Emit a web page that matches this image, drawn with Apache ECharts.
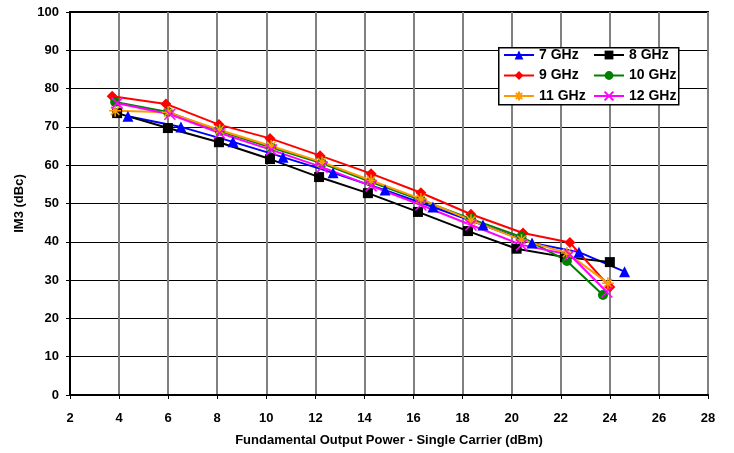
<!DOCTYPE html>
<html>
<head>
<meta charset="utf-8">
<script src="https://cdn.jsdelivr.net/npm/echarts@6/dist/echarts.min.js"></script>
<style>html,body{margin:0;padding:0;background:#fff;}#c{width:734px;height:453px;}</style>
</head>
<body>
<div id="c"></div>
<script>
var xTicks = [2,4,6,8,10,12,14,16,18,20,22,24,26,28];
var yTicks = [0,10,20,30,40,50,60,70,80,90,100];

var names = ['7 GHz','8 GHz','9 GHz','10 GHz','11 GHz','12 GHz'];

var x7  = [4.36, 6.52, 8.64, 10.68, 12.72, 14.84, 16.79, 18.83, 20.83, 22.74, 24.6];
var y7  = [72.8, 70.0, 66.1, 62.1, 58.0, 53.5, 49.1, 44.4, 39.7, 37.3, 32.2];
var x8  = [3.92, 5.99, 8.07, 10.15, 12.15, 14.14, 16.18, 18.22, 20.2, 22.17, 24.0];
var y8  = [73.6, 69.7, 66.0, 61.6, 56.9, 52.7, 47.8, 42.8, 38.2, 36.0, 34.7];
var x9  = [3.72, 5.91, 8.07, 10.15, 12.19, 14.27, 16.3, 18.34, 20.46, 22.37, 24.0];
var y9  = [78.0, 76.0, 70.6, 67.0, 62.5, 57.8, 52.8, 47.2, 42.3, 39.8, 28.2];
var x10 = [3.84, 5.99, 8.1, 10.2, 12.27, 14.27, 16.3, 18.34, 20.4, 22.25, 23.72];
var y10 = [76.5, 73.9, 68.9, 64.6, 60.5, 55.6, 50.9, 46.0, 41.3, 35.0, 26.1];
var x11 = [3.84, 6.0, 8.1, 10.2, 12.27, 14.27, 16.3, 18.34, 20.4, 22.25, 23.92];
var y11 = [74.2, 73.8, 69.2, 65.0, 60.8, 56.0, 51.2, 45.6, 40.5, 37.1, 29.2];
var x12 = [3.92, 6.07, 8.1, 10.2, 12.27, 14.27, 16.3, 18.34, 20.4, 22.37, 23.88];
var y12 = [76.2, 73.3, 68.4, 64.0, 59.5, 54.6, 49.6, 44.4, 39.2, 36.6, 26.9];

var colors = ['#0000FF','#000000','#FF0000','#008000','#FF9900','#FF00FF'];
var symbols = ['triangle','rect','diamond','circle',
  'path://M5 0 L5 10 M0 5 L10 5 M1.5 1.5 L8.5 8.5 M8.5 1.5 L1.5 8.5',
  'path://M0 0 L10 10 M10 0 L0 10'];
var sizes = [11, 10, 11, 10, 12, 11];
var xs = [x7,x8,x9,x10,x11,x12];
var ys = [y7,y8,y9,y10,y11,y12];

function pairs(a,b){ var r=[]; for(var i=0;i<a.length;i++) r.push([a[i],b[i]]); return r; }

var series = names.map(function(n,i){
  var isPath = i >= 4;
  return {
    name: n, type: 'line', data: pairs(xs[i], ys[i]),
    symbol: symbols[i], symbolSize: sizes[i],
    lineStyle: {color: colors[i], width: 2},
    itemStyle: isPath ? {color: 'none', borderColor: colors[i], borderWidth: 1.5}
                      : {color: colors[i], borderWidth: 0}
  };
});

var font = 'Liberation Sans, Arial, sans-serif';
var legendText = {fontFamily: font, fontWeight: 'bold', fontSize: 14, color: '#000', lineHeight: 14};
function mkLegend(data, left){
  return {
    data: data, left: left, top: 48, orient: 'vertical',
    itemWidth: 30, itemHeight: 11, itemGap: 6.5, padding: 0,
    textStyle: legendText, z: 6
  };
}

var chart = echarts.init(document.getElementById('c'), null, {renderer:'canvas'});
chart.setOption({
  animation: false,
  backgroundColor: '#fff',
  grid: {left: 70, right: 26, top: 12, bottom: 58, show: true, borderColor: '#000', borderWidth: 2, backgroundColor: 'transparent'},
  graphic: [{
    type: 'rect', left: 498, top: 47, z: 5,
    shape: {width: 180, height: 57},
    style: {fill: '#fff', stroke: '#000', lineWidth: 1.5}
  }],
  xAxis: {
    type: 'value', min: xTicks[0], max: xTicks[xTicks.length-1], interval: 2,
    name: 'Fundamental Output Power - Single Carrier (dBm)', nameLocation: 'middle', nameGap: 39,
    nameTextStyle: {fontFamily: font, fontWeight: 'bold', fontSize: 13, color: '#000'},
    axisLine: {show: true, lineStyle: {color: '#000', width: 2}},
    axisTick: {show: true, length: 4, lineStyle: {color: '#000', width: 1}},
    axisLabel: {fontFamily: font, fontWeight: 'bold', fontSize: 13, color: '#000', margin: 17},
    splitLine: {show: true, lineStyle: {color: '#808080', width: 2}}
  },
  yAxis: {
    type: 'value', min: yTicks[0], max: yTicks[yTicks.length-1], interval: 10,
    name: 'IM3 (dBc)', nameLocation: 'middle', nameGap: 44,
    nameTextStyle: {fontFamily: font, fontWeight: 'bold', fontSize: 13, color: '#000'},
    axisLine: {show: true, lineStyle: {color: '#000', width: 2}},
    axisTick: {show: true, length: 4, lineStyle: {color: '#000', width: 1}},
    axisLabel: {fontFamily: font, fontWeight: 'bold', fontSize: 13, color: '#000', margin: 11},
    splitLine: {show: true, lineStyle: {color: '#000', width: 1}}
  },
  legend: [
    mkLegend([names[0], names[2], names[4]], 503),
    mkLegend([names[1], names[3], names[5]], 593)
  ],
  series: series
});
</script>
</body>
</html>
